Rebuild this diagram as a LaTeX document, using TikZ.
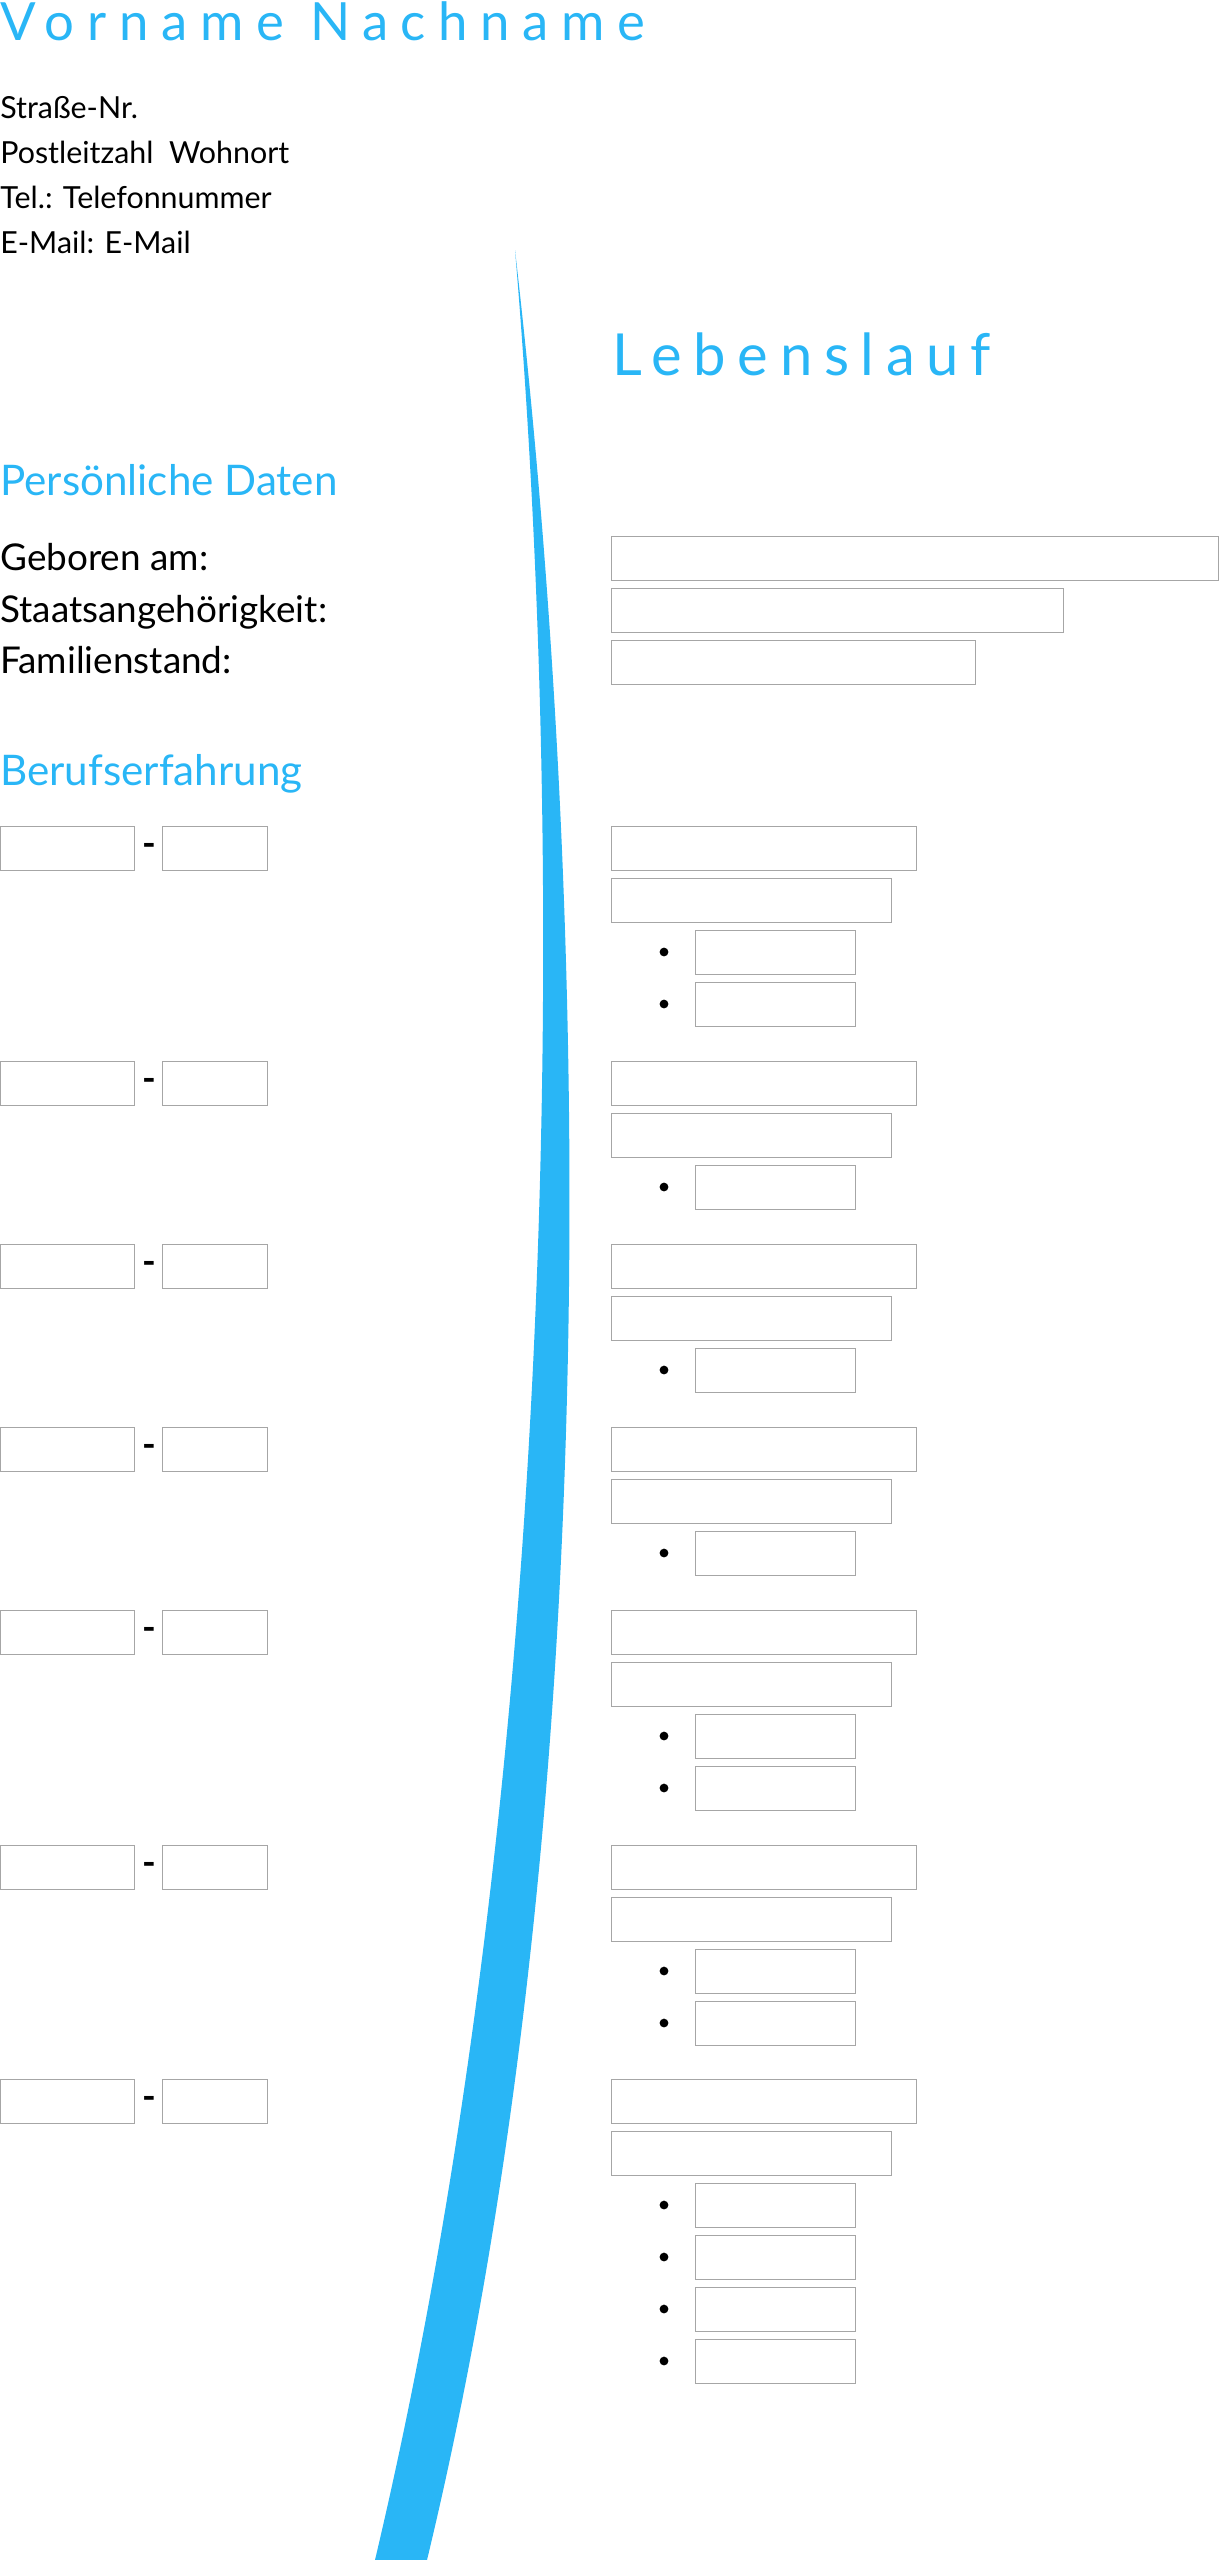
\documentclass[tikz,border=0pt]{standalone}
\usepackage{fontspec}
\setmainfont{Lato}
\newfontfamily\titlefont[LetterSpace=24]{Lato}
\newfontfamily\cvfont[LetterSpace=20]{Lato}
\definecolor{cvblue}{HTML}{29B6F6}

\begin{document}
\begin{tikzpicture}[x=0.02cm, y=-0.02cm,
	field/.style={draw=gray!70, line width=0.6pt, inner sep=0pt, anchor=north west},
	label/.style={anchor=base west, inner sep=0pt, font=\fontsize{21}{24}\selectfont},
	address/.style={anchor=base west, inner sep=0pt, font=\fontsize{17.3}{20}\selectfont},
	heading/.style={anchor=base west, inner sep=0pt, text=cvblue, font=\fontsize{24}{28}\selectfont},
	dot/.style={circle, fill=black, inner sep=0pt, minimum size=5pt}]
	\useasboundingbox (0,0) rectangle (1219,2560);
	
	% Swoosh
	\fill[cvblue] (515,250) .. controls (590,900) and (610,1800) .. (427,2560)
		-- (375,2560) .. controls (555,1800) and (570,900) .. (515,250);
	
	% Header
	\node[anchor=base west, inner sep=0pt, text=cvblue, font=\titlefont\fontsize{30}{34}\selectfont] (name) at (0,40) {Vorname Nachname};
	\node[address] (street) at (0,118) {Straße-Nr.};
	\node[address] (city) at (0,163) {Postleitzahl\ \ Wohnort};
	\node[address] (phone) at (0,208) {Tel.: Telefonnummer};
	\node[address] (mail) at (0,253) {E-Mail: E-Mail};
	\node[anchor=base west, inner sep=0pt, text=cvblue, font=\cvfont\fontsize{33}{38}\selectfont] (cv) at (612,375) {Lebenslauf};
	
	% Personal data
	\node[heading] (personal) at (0,495) {Persönliche Daten};
	\node[label] (born) at (0,570) {Geboren am:};
	\node[label] (nation) at (0,622) {Staatsangehörigkeit:};
	\node[label] (family) at (0,673) {Familienstand:};
	\node[field, minimum width=607*0.02cm, minimum height=44*0.02cm] (bornbox) at (611,536) {};
	\node[field, minimum width=452*0.02cm, minimum height=44*0.02cm] (nationbox) at (611,588) {};
	\node[field, minimum width=364*0.02cm, minimum height=44*0.02cm] (familybox) at (611,640) {};
	
	% Work experience
	\node[heading] (work) at (0,785) {Berufserfahrung};
	\foreach \y/\n [count=\i] in {826/2, 1061/1, 1244/1, 1427/1, 1610/2, 1845/2, 2079/4} {
		\node[field, minimum width=134*0.02cm, minimum height=44*0.02cm] (from\i) at (0,\y) {};
		\node[field, minimum width=105*0.02cm, minimum height=44*0.02cm] (to\i) at (162,\y) {};
		\node[label, font=\bfseries\fontsize{21}{24}\selectfont] (dash\i) at (142,\y+30) {-};
		\node[field, minimum width=305*0.02cm, minimum height=44*0.02cm] (job\i) at (611,\y) {};
		\node[field, minimum width=280*0.02cm, minimum height=44*0.02cm] (firm\i) at (611,\y+52) {};
		\foreach \k in {1,...,\n} {
			\node[field, minimum width=160*0.02cm, minimum height=44*0.02cm] (task\i-\k) at (695,\y+52+52*\k) {};
			\node[dot] (dot\i-\k) at (664,\y+74+52*\k) {};
		}
	}
\end{tikzpicture}
\end{document}
